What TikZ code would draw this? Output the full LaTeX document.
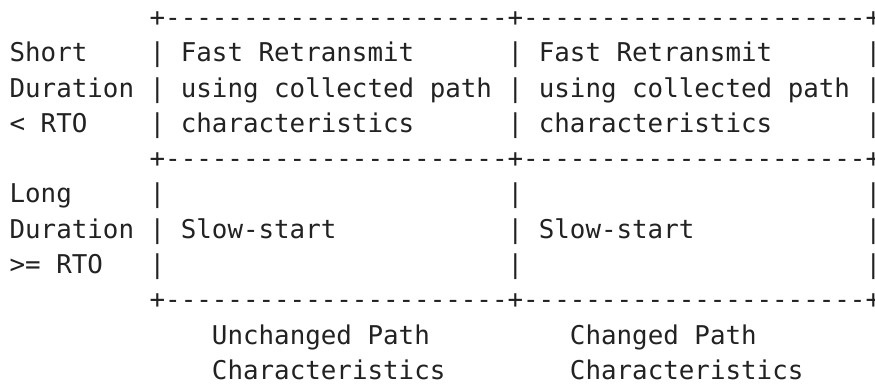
\documentclass[tikz,border=0pt]{standalone}
\usepackage{fontspec}
\setmonofont{DejaVu Sans Mono}
\definecolor{ink}{HTML}{222222}
\tikzset{
  tx/.style={anchor=base west, inner sep=0pt, outer sep=0pt, text=ink,
    font=\ttfamily\fontsize{25.85pt}{35.3pt}\selectfont}
}
\newcommand\cellat[4]{\node[tx] (#1) at ({9.6pt+#2*15.565pt},{-26.4pt-#3*35.3pt}) {#4};}
\begin{document}
\begin{tikzpicture}
\fill[white] (0,-388pt) rectangle (875pt,0pt);
\useasboundingbox (0,-388pt) rectangle (875pt,0pt);
% borders
\cellat{top}{9}{0}{+----------------------+----------------------+}
\cellat{mid}{9}{4}{+----------------------+----------------------+}
\cellat{bot}{9}{8}{+----------------------+----------------------+}
% vertical bars
\foreach \r in {1,2,3,5,6,7}{
  \foreach \c in {9,32,55}{
    \cellat{bar\r-\c}{\c}{\r}{|}
  }
}
% row labels
\cellat{short}{0}{1}{Short}
\cellat{dur1}{0}{2}{Duration}
\cellat{lt}{0}{3}{< RTO}
\cellat{long}{0}{5}{Long}
\cellat{dur2}{0}{6}{Duration}
\cellat{ge}{0}{7}{>= RTO}
% cells
\cellat{fa1}{11}{1}{Fast Retransmit}
\cellat{fa2}{11}{2}{using collected path}
\cellat{fa3}{11}{3}{characteristics}
\cellat{fb1}{34}{1}{Fast Retransmit}
\cellat{fb2}{34}{2}{using collected path}
\cellat{fb3}{34}{3}{characteristics}
\cellat{sa}{11}{6}{Slow-start}
\cellat{sb}{34}{6}{Slow-start}
% column labels
\cellat{ua}{13}{9}{Unchanged Path}
\cellat{ub}{13}{10}{Characteristics}
\cellat{ca}{36}{9}{Changed Path}
\cellat{cb}{36}{10}{Characteristics}
\end{tikzpicture}
\end{document}
